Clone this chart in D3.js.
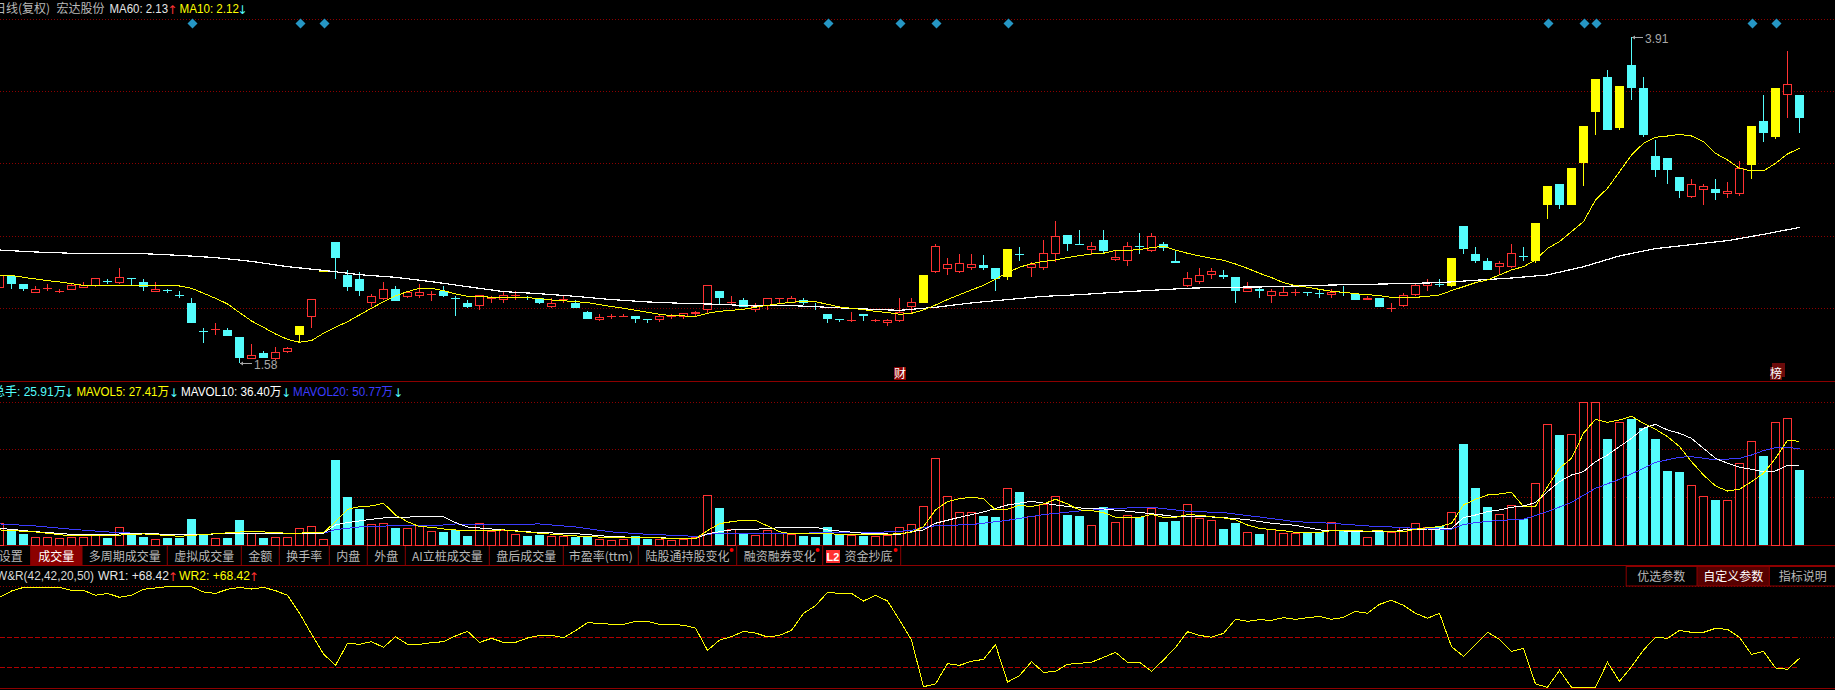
<!DOCTYPE html>
<html>
<head>
<meta charset="utf-8">
<script src="https://cdn.jsdelivr.net/npm/d3@7"></script>
<style>
    html, body { margin: 0; padding: 0; background: #000; overflow: hidden; }
    svg { display: block; }
    text { font-family: "Liberation Sans", "Noto Sans CJK SC", sans-serif; font-size: 12px; }
    .cjk { font-family: "Noto Sans CJK SC", sans-serif; font-size: 12px; }
</style>
</head>
<body>
<svg id="svg" width="1835" height="690"></svg>
<script>
// candles, one entry per session
const opens = [
    2.12,2.20,2.14,2.08,2.11,2.09,2.10,2.12,2.13,2.16,
    2.15,2.18,2.16,2.09,2.10,2.06,2.01,1.80,1.82,1.81,
    1.76,1.61,1.65,1.61,1.66,1.78,1.91,2.23,2.44,2.21,
    2.18,2.01,2.04,2.11,2.05,2.06,2.07,2.09,2.04,2.01,
    1.99,2.04,2.03,2.06,2.05,2.04,1.98,2.03,2.01,1.94,
    1.89,1.91,1.91,1.91,1.89,1.89,1.91,1.91,1.93,1.96,
    2.09,2.01,2.03,1.96,1.99,2.04,2.01,2.03,1.98,1.93,
    1.89,1.88,1.93,1.88,1.87,1.88,1.98,2.01,2.23,2.25,
    2.23,2.26,2.28,2.26,2.19,2.35,2.26,2.26,2.36,2.49,
    2.43,2.39,2.46,2.32,2.31,2.41,2.38,2.43,2.31,2.13,
    2.16,2.21,2.21,2.19,2.09,2.11,2.06,2.06,2.08,2.08,
    2.08,2.07,2.08,2.07,2.03,2.04,1.97,1.99,2.07,2.13,
    2.14,2.13,2.56,2.36,2.31,2.27,2.27,2.34,2.31,2.71,
    2.86,2.71,3.01,3.37,3.62,3.26,3.71,3.54,3.06,3.04,
    2.91,2.77,2.82,2.82,2.79,2.79,2.99,3.31,3.19,3.50,3.49
];
const closes = [
    2.20,2.14,2.11,2.10,2.11,2.09,2.13,2.13,2.18,2.16,
    2.19,2.18,2.12,2.10,2.09,2.06,1.86,1.80,1.82,1.77,
    1.61,1.63,1.61,1.65,1.68,1.84,2.03,2.23,2.33,2.12,
    2.09,2.05,2.10,2.02,2.08,2.08,2.07,2.06,2.04,1.98,
    2.06,2.04,2.06,2.06,2.04,2.01,2.00,2.03,1.97,1.89,
    1.90,1.91,1.91,1.89,1.89,1.91,1.91,1.93,1.94,2.13,
    2.04,2.01,1.98,1.98,2.04,2.04,2.04,2.01,1.98,1.89,
    1.89,1.88,1.91,1.88,1.88,1.94,2.01,2.21,2.41,2.28,
    2.29,2.28,2.26,2.18,2.39,2.35,2.28,2.36,2.48,2.43,
    2.42,2.41,2.38,2.33,2.41,2.41,2.48,2.40,2.29,2.18,
    2.20,2.23,2.19,2.09,2.11,2.09,2.09,2.08,2.08,2.08,
    2.07,2.08,2.08,2.03,2.04,1.98,1.97,2.06,2.13,2.15,
    2.14,2.33,2.39,2.31,2.24,2.29,2.36,2.34,2.58,2.84,
    2.71,2.97,3.27,3.61,3.24,3.56,3.54,3.21,2.96,2.96,
    2.81,2.85,2.84,2.79,2.80,2.97,3.27,3.22,3.54,3.57,3.33
];
const highs = [
    2.20,2.20,2.14,2.13,2.14,2.11,2.14,2.16,2.18,2.18,
    2.26,2.18,2.18,2.16,2.11,2.09,2.04,1.83,1.86,1.83,
    1.76,1.71,1.66,1.69,1.69,1.84,2.03,2.23,2.44,2.24,
    2.23,2.07,2.16,2.13,2.08,2.14,2.09,2.13,2.06,2.03,
    2.06,2.06,2.09,2.09,2.06,2.04,2.04,2.06,2.03,1.95,
    1.93,1.93,1.93,1.91,1.89,1.92,1.93,1.93,1.95,2.13,
    2.09,2.06,2.04,2.01,2.04,2.04,2.06,2.04,2.01,1.93,
    1.89,1.94,1.93,1.89,1.89,2.04,2.04,2.21,2.43,2.33,
    2.36,2.36,2.35,2.26,2.39,2.41,2.30,2.46,2.59,2.49,
    2.53,2.44,2.53,2.38,2.44,2.51,2.51,2.44,2.38,2.23,
    2.26,2.26,2.24,2.19,2.16,2.13,2.11,2.12,2.11,2.08,
    2.10,2.11,2.13,2.07,2.06,2.04,2.01,2.08,2.14,2.18,
    2.18,2.33,2.56,2.41,2.33,2.31,2.43,2.41,2.58,2.84,
    2.86,2.97,3.27,3.61,3.67,3.56,3.91,3.62,3.17,3.04,
    2.91,2.89,2.86,2.89,2.87,3.02,3.27,3.49,3.54,3.81,3.49
];
const lows = [
    2.12,2.11,2.09,2.08,2.09,2.08,2.10,2.12,2.12,2.14,
    2.14,2.13,2.09,2.09,2.08,2.04,1.86,1.72,1.78,1.77,
    1.58,1.61,1.61,1.60,1.65,1.73,1.83,2.23,2.18,2.09,
    2.06,1.98,2.03,2.02,2.04,2.04,2.02,2.05,1.91,1.97,
    1.96,2.01,2.01,2.03,2.03,2.00,1.97,2.01,1.97,1.89,
    1.88,1.89,1.91,1.86,1.86,1.87,1.89,1.89,1.91,1.93,
    2.00,2.00,1.98,1.94,1.96,2.00,2.01,1.99,1.96,1.86,
    1.87,1.87,1.88,1.87,1.84,1.87,1.93,2.01,2.22,2.21,
    2.22,2.24,2.24,2.09,2.17,2.31,2.19,2.24,2.30,2.38,
    2.42,2.35,2.36,2.31,2.27,2.36,2.37,2.38,2.29,2.12,
    2.14,2.18,2.18,2.01,2.09,2.04,2.01,2.06,2.06,2.06,
    2.04,2.04,2.06,2.03,2.03,1.98,1.94,1.98,2.06,2.09,
    2.12,2.12,2.36,2.29,2.24,2.21,2.26,2.31,2.29,2.61,
    2.68,2.71,2.84,3.21,3.24,3.24,3.46,3.19,2.91,2.86,
    2.76,2.76,2.71,2.74,2.76,2.77,2.89,3.16,3.18,3.33,3.22
];
// sessions whose open equals close but still count as down
const flatDown = [9,11,15,17,38,54,68,70,85,95,109,112,120,127];
const yellowDays = [25,27,77,84,121,128,129,131,132,133,135,146,148];
const diamondDays = [16,25,27,69,75,78,84,129,132,133,146,148];

const ma60At = d3.range(0, 151, 3);
const ma60 = [
    2.385,2.371,2.362,2.359,2.359,2.347,2.331,2.304,2.266,2.240,
    2.209,2.190,2.159,2.123,2.088,2.073,2.054,2.031,2.014,2.004,
    1.997,1.985,1.988,1.976,1.964,1.954,1.976,2.007,2.031,2.054,
    2.066,2.083,2.097,2.112,2.119,2.121,2.128,2.135,2.140,2.145,
    2.152,2.169,2.185,2.207,2.266,2.343,2.395,2.424,2.452,2.497,2.547
];
const ma10 = [
    2.204,2.204,2.190,2.178,2.166,2.157,2.145,2.133,2.131,2.131,
    2.131,2.131,2.131,2.131,2.131,2.128,2.112,2.076,2.040,2.000,
    1.938,1.878,1.833,1.785,1.747,1.726,1.738,1.790,1.833,1.873,
    1.921,1.969,2.016,2.057,2.088,2.112,2.112,2.095,2.071,2.054,
    2.054,2.047,2.047,2.045,2.045,2.038,2.028,2.023,2.016,2.009,
    1.995,1.981,1.969,1.954,1.940,1.926,1.916,1.914,1.911,1.933,
    1.947,1.954,1.962,1.976,1.990,2.002,2.011,2.019,2.016,1.997,
    1.978,1.969,1.959,1.947,1.938,1.926,1.933,1.957,1.992,2.031,
    2.066,2.100,2.133,2.176,2.224,2.262,2.288,2.304,2.314,2.331,
    2.345,2.357,2.362,2.383,2.383,2.388,2.402,2.412,2.385,2.362,
    2.343,2.326,2.312,2.285,2.254,2.219,2.188,2.152,2.131,2.119,
    2.104,2.090,2.083,2.073,2.066,2.059,2.047,2.047,2.047,2.054,
    2.064,2.095,2.123,2.152,2.171,2.207,2.243,2.266,2.314,2.397,
    2.445,2.517,2.588,2.743,2.826,2.945,3.064,3.148,3.191,3.200,
    3.212,3.200,3.160,3.076,3.029,2.969,2.950,2.950,3.005,3.072,3.112
];

// volume in 万手
const volumes = [
    15.8,12,8.3,5.8,5.8,5,5.3,5.3,7.5,5.5,
    13.3,9.3,6.3,4.3,5.3,5.5,19.5,7.8,5,5.3,
    18.8,8.3,5.3,5.8,5.8,12.5,14,4.3,63.8,36,
    27,15.5,16.3,12.8,12.5,14.8,10.3,9.8,11.3,6.8,
    16.3,10.5,10.8,8,6.8,7.5,6.5,6.3,6.3,6.8,
    4.3,3.5,4.3,6.8,4.3,4.3,3.5,4.3,5.8,37.3,
    27.8,11.8,8.3,7.3,11,8.8,8,6.8,6,13.5,
    7.8,7.3,6.8,6.5,7,13.5,15.5,29,65,36.5,
    24.5,24.5,21.8,21,42.5,39.8,21.5,30.5,36.5,22.5,
    21.8,14.8,28.5,17,22.3,21,27.5,17.3,18,30.5,
    20,18.5,12,16.5,9.5,8.3,11.5,8.8,8.8,9,
    9.5,17,10.5,10,5.8,9.8,9.5,13,16.3,13.5,
    14.3,24.5,75.8,42.8,28.5,23,29.8,19.3,46.3,90.5,
    82.5,83,107,107,79.5,92,94.5,87.8,79.5,55.5,
    54.8,44.8,36.5,33.8,33.5,61.3,77.8,66.8,92,95,56.3
];
const mavol5At = [
    0,3,6,9,12,15,18,21,24,27,28,29,30,31,32,33,34,35,36,37,38,
    39,42,45,48,51,54,57,58,59,60,61,62,63,64,65,66,69,72,75,76,77
].concat(d3.range(78, 151));
const mavol5 = [
    11.3,9.8,6.8,7,8.3,6.5,8.5,10.3,8.8,9.3,17.5,26.8,28.8,29.3,31.3,22.5,17.5,13.8,13.3,12,11.3,
    10.5,11.3,8.8,6.8,5.5,5.5,4.8,4.8,10.8,16,17.5,18.5,18.5,14.3,10,8.3,8.3,8,8.3,9.5,13.8,
    26.3,32.5,34.8,35.8,34.8,26.3,26.8,29.8,28.8,30.8,34.3,30.8,26.3,25.8,24.3,20.8,20.8,20.8,23,20.8,20.8,
    22.8,22.3,21.3,20.3,18.8,15,12.5,11.5,10.8,9.5,9.3,9.5,10.8,10.8,10.8,10.3,10.8,
    9.8,10,11.8,13,13.8,16.3,30,34.3,37.5,38.3,39.5,28.8,29,43.8,57.5,65,83.8,94.3,92,93.8,96.5,91.3,86.8,
    81.3,73.8,62.5,52.5,44.3,40.5,41.8,47.5,53.8,65,78.5,77.8
];
const mavol10At = [
    0,3,6,9,12,15,18,21,24,27,28,29,30,31,32,33,36,37,38,
    39,42,45,48,51,54,57,58,59,60,61,63,64,66,68,69,72,75,76,
    77,78,80,82,84,86,88,90,92,94,96,98,100,102,104,106,108,110,112,114,
    116,117,119,120,121,122,123,124,125,126,127,128,129,130,131,132,133,134,135,136,137,138,139,
    140,141,142,143,144,145,146,147,148,149,150
];
const mavol10 = [
    12.5,10,8,8,8.8,7.5,8.3,8.3,8.3,8.8,15,16.8,18,19.3,20.3,20.8,21.3,21.3,16.8,
    13.5,11.3,9.3,8.5,6.3,5.5,5,5,8.3,10,11.3,11.8,12.5,13.3,13.3,11.3,8.8,8,10,
    11.3,16.3,20.8,24.8,30,32.8,30,27.8,27,25.3,23.5,21.3,21.5,20.5,19,16.3,14.8,11.3,10.5,10,
    9.8,11.3,12,12,12.5,20.5,22.5,25,26.3,28.3,29.3,31.8,40,47.5,52.5,55,62.5,67.5,73.8,80,87.5,90.5,86.3,
    83.8,80,72.5,65,61.3,58.3,56.8,55,55.5,59.8,59.5
];
const mavol20At = [
    0,3,6,9,12,15,18,21,24,27,28,29,30,33,36,38,39,42,45,48,51,54,57,58,59,60,63,66,69,72,75,76,
    77,78,81,84,87,90,93,96,99,102,105,108,111,114,116,118,120,121,122,123,125,127,129,131,133,135,137,138,
    140,141,143,145,146,147,148,149,150
];
const mavol20 = [
    15.8,14.3,11.8,9.8,8.5,7.8,8.3,8.3,8.5,8.8,11.5,12.5,13.5,14.5,14.3,15.8,15.5,15.3,15.8,13.5,9.8,8,7,6.3,8,8.8,8.8,8.5,9.5,9,10.3,11,
    13,14.5,15.3,18.5,22.8,25.5,27.5,28.3,25.3,24.3,21,17.5,16.3,14.3,13.5,12.5,12,12,15.3,16.8,18.5,19.3,25,32,42.5,49.3,57.5,62,
    65.8,66.3,63.8,65,67.5,70.8,73,73.3,72
];

// W&R line
const wr = [
    89.5,95.7,99.3,98.7,98.7,99.3,96.4,96.4,91.5,93.4,
    89.5,91.5,97.4,98.7,100,100,100,94.8,93.4,97.4,
    99.3,97.7,99.3,96.1,91.5,73.8,53.4,33.8,22.6,44.3,
    43.3,45.9,40.3,50.8,43.3,43.3,44.9,45.9,51.5,56.1,
    45.2,49.2,45.2,45.2,49.5,52.1,52.1,49.8,56.7,64.6,
    63.9,63,63,65.9,65.9,63,63,62,59.3,37.4,
    47.5,50.8,56.1,54.4,50.5,52.1,57,73.8,81.3,94.4,
    93.4,93.4,85.9,91.5,85.9,67.2,47.5,1.6,4.3,24.3,
    22.6,26.6,28.5,43,6.2,12.5,26.2,15.7,16.7,23.6,
    24.6,25.6,30.5,35.4,25.6,25.6,16.7,27.9,40.3,55.7,
    52.1,50.2,54.1,67.9,65.9,67.5,66.9,69.5,67.9,69.5,
    70.8,67.9,69.8,75.7,73.8,82.6,86.6,81.6,73.8,68.9,
    73.8,41,31.5,43.3,55.1,48.2,36.4,39.3,4.3,1,
    17.7,1,1,1,25.6,6.9,21.3,37.7,50.2,49.2,
    57,55.1,55.1,59,58,50.2,33.4,36.4,20,18.7,29.5
];

// grid levels, in each panel's own units
const priceGrid = [4.034, 3.519, 3.005, 2.481, 1.969];
const volumeGrid = [107, 71.8, 35.8];
const wrDotted = [100];
const wrDashed = [50, 20];

const tabLabels = ["设置", "成交量", "多周期成交量", "虚拟成交量", "金额", "换手率", "内盘", "外盘", "AI立桩成交量", "盘后成交量", "市盈率(ttm)", "陆股通持股变化", "融资融券变化", "资金抄底"];
const tabEdges = [-9, 30.7, 82, 167.3, 241.3, 279.3, 329.3, 367.3, 405.3, 489.3, 563.3, 638.3, 736.7, 822.7, 900.7];
const tabDots = [731.7, 817.7, 895.7];
const paramLabels = ["优选参数", "自定义参数", "指标说明"];
const paramEdges = [1625.7, 1697, 1769.3, 1836];

const RED = "#ff3232", CYAN = "#54fcfc", YELLOW = "#ffff00", WHITE = "#ffffff", BLUE = "#3c3cff";
const GRID = "#8c0000", GREY = "#b9b9b9";

let svg = d3.select("#svg");
const width = 1835;
const lastX = 1797;

let xScale = d3.scaleLinear().domain([0, 150]).range([-0.5, 1799.5]);
let priceScale = d3.scaleLinear().domain([1.58, 3.91]).range([362.67, 36.67]);
let volumeScale = d3.scaleLinear().domain([0, 100]).range([545, 411.67]);
let wrScale = d3.scaleLinear().domain([0, 100]).range([688.33, 586.67]);

function toneOf(i) {
    if (yellowDays.includes(i)) return YELLOW;
    if (closes[i] > opens[i]) return RED;
    if (closes[i] < opens[i]) return CYAN;
    return flatDown.includes(i) ? CYAN : RED;
}

function volumeTone(i) {
    let tone = toneOf(i);
    return tone == YELLOW ? RED : tone;
}

function drawGrid(levels, scale, dash, color = GRID, x1 = 0, x2 = width) {
    svg.append("g").selectAll("line").data(levels).join("line")
        .attr("x1", x1).attr("x2", x2)
        .attr("y1", d => Math.floor(scale(d)) + 0.5)
        .attr("y2", d => Math.floor(scale(d)) + 0.5)
        .attr("stroke", color)
        .attr("stroke-dasharray", dash);
}

function drawRule(y, x1 = 0, x2 = width) {
    svg.append("line").attr("x1", x1).attr("x2", x2).attr("y1", y).attr("y2", y).attr("stroke", GRID);
}

function drawLine(at, values, yScale, color, thickness = 1) {
    let line = d3.line().x((d, k) => xScale(at[k])).y(d => yScale(d));
    svg.append("path").attr("d", line(values))
        .attr("fill", "none")
        .attr("stroke", color)
        .attr("stroke-width", thickness)
        .attr("shape-rendering", "crispEdges");
}

function drawCandles() {
    let g = svg.append("g").attr("shape-rendering", "crispEdges");
    let days = d3.range(opens.length);

    g.selectAll(".wick").data(days).join("line")
        .attr("class", "wick")
        .attr("x1", i => xScale(i)).attr("x2", i => xScale(i))
        .attr("y1", i => priceScale(highs[i])).attr("y2", i => priceScale(lows[i]))
        .attr("stroke", toneOf);

    g.selectAll(".body").data(days.filter(i => opens[i] != closes[i])).join("rect")
        .attr("class", "body")
        .attr("x", i => toneOf(i) == RED ? xScale(i) - 4 : xScale(i) - 4.5)
        .attr("width", i => toneOf(i) == RED ? 8 : 9)
        .attr("y", i => priceScale(Math.max(opens[i], closes[i])))
        .attr("height", i => Math.abs(priceScale(opens[i]) - priceScale(closes[i])))
        .attr("fill", i => toneOf(i) == RED ? "#000" : toneOf(i))
        .attr("stroke", i => toneOf(i) == RED ? RED : "none");

    g.selectAll(".flat").data(days.filter(i => opens[i] == closes[i])).join("line")
        .attr("class", "flat")
        .attr("x1", i => xScale(i) - 4.5).attr("x2", i => xScale(i) + 4.5)
        .attr("y1", i => priceScale(opens[i])).attr("y2", i => priceScale(opens[i]))
        .attr("stroke", toneOf);
}

function drawVolumes() {
    let g = svg.append("g").attr("shape-rendering", "crispEdges");
    let days = d3.range(volumes.length);
    g.selectAll("rect").data(days).join("rect")
        .attr("x", i => volumeTone(i) == RED ? xScale(i) - 4 : xScale(i) - 4.5)
        .attr("width", i => volumeTone(i) == RED ? 8 : 9)
        .attr("y", i => volumeScale(volumes[i]))
        .attr("height", i => volumeScale(0) - volumeScale(volumes[i]))
        .attr("fill", i => volumeTone(i) == RED ? "#000" : CYAN)
        .attr("stroke", i => volumeTone(i) == RED ? RED : "none");
}

function drawDiamonds() {
    svg.append("g").selectAll("path").data(diamondDays).join("path")
        .attr("d", "M0,-5L5,0L0,5L-5,0Z")
        .attr("transform", i => `translate(${xScale(i) + 1},23.5)`)
        .attr("fill", "#2596c4");
}

function label(text, x, y, color, cls, anchor = "start", fit) {
    let t = svg.append("text").attr("x", x).attr("y", y).attr("fill", color)
        .attr("class", cls || null).attr("text-anchor", anchor).text(text);
    if (fit) t.attr("textLength", fit).attr("lengthAdjust", "spacingAndGlyphs");
    return t;
}

function arrow(text, x, y, color) {
    svg.append("text").attr("x", x).attr("y", y).attr("fill", color)
        .attr("text-anchor", "middle")
        .style("font-family", "'DejaVu Sans'").style("font-size", "12px").text(text);
}

function priceNote(i, price, tipX, textX) {
    let y = Math.round(priceScale(price)) + 0.5;
    svg.append("line").attr("x1", tipX).attr("x2", textX - 2).attr("y1", y).attr("y2", y).attr("stroke", "#a8a8a8");
    svg.append("path").attr("d", `M${tipX},${y}l3,-2v4Z`).attr("fill", "#a8a8a8");
    label(price.toFixed(2), textX, y + 5, "#a8a8a8");
}

function badge(text, x, y, color = "#8b0000") {
    svg.append("rect").attr("x", x).attr("y", y).attr("width", 12).attr("height", 13).attr("fill", color);
    label(text, x, y + 11, "#fff", "cjk");
}

function drawHeaders() {
    label("日线(复权)", -6, 13, GREY, "cjk");
    label("宏达股份", 56.5, 13, GREY, "cjk");
    label("MA60: 2.13", 109.5, 13, "#e6e6e6", null, "start", 58.5);
    arrow("↑", 172.3, 14, RED);
    label("MA10: 2.12", 179.5, 13, YELLOW, null, "start", 59.5);
    arrow("↓", 242.3, 14, CYAN);

    label("总手: 25.91万", -7, 396, CYAN);
    arrow("↓", 68.7, 397, CYAN);
    label("MAVOL5: 27.41万", 76.5, 396, YELLOW, null, "start", 92.5);
    arrow("↓", 173.7, 397, CYAN);
    label("MAVOL10: 36.40万", 181, 396, WHITE, null, "start", 100.5);
    arrow("↓", 286, 397, CYAN);
    label("MAVOL20: 50.77万", 293, 396, BLUE, null, "start", 100);
    arrow("↓", 398, 397, CYAN);

    label("W&R(42,42,20,50)", -4, 580, "#d8d8d8", null, "start", 98);
    label("WR1: +68.42", 98, 580, "#e6e6e6", null, "start", 71);
    arrow("↑", 172.7, 581, RED);
    label("WR2: +68.42", 179, 580, YELLOW, null, "start", 71);
    arrow("↑", 253.7, 581, RED);
}

function drawTabs() {
    svg.append("rect").attr("x", tabEdges[1]).attr("y", 546).attr("width", tabEdges[2] - tabEdges[1]).attr("height", 19).attr("fill", "#8c0000");
    tabEdges.slice(1).forEach(x => {
        svg.append("line").attr("x1", x).attr("x2", x).attr("y1", 546).attr("y2", 565).attr("stroke", GRID);
    });
    tabLabels.forEach((t, k) => {
        let mid = (tabEdges[k] + tabEdges[k + 1]) / 2;
        if (t == "资金抄底") {
            label(t, 868.5, 560.5, GREY, "cjk", "middle");
        } else {
            label(t, mid, 560.5, k == 1 ? "#fff" : GREY, "cjk", "middle");
        }
    });
    svg.selectAll(".tabdot").data(tabDots).join("circle")
        .attr("class", "tabdot")
        .attr("cx", d => d).attr("cy", 550).attr("r", 2).attr("fill", "#ff0000");
    svg.append("rect").attr("x", 826).attr("y", 550).attr("width", 14).attr("height", 13).attr("fill", "#ff3232");
    svg.append("text").attr("x", 833).attr("y", 560.5).attr("text-anchor", "middle").attr("fill", "#fff")
        .style("font-size", "11px").style("font-weight", "bold").text("L2");

    // parameter buttons, right of the W&R header
    svg.append("rect").attr("x", paramEdges[1]).attr("y", 566).attr("width", paramEdges[2] - paramEdges[1]).attr("height", 20).attr("fill", "#560000");
    svg.append("rect").attr("x", paramEdges[0] + 0.5).attr("y", 566.5).attr("width", 220).attr("height", 19.5).attr("fill", "none").attr("stroke", GRID);
    paramEdges.slice(1, 3).forEach(x => {
        svg.append("line").attr("x1", x).attr("x2", x).attr("y1", 566).attr("y2", 586).attr("stroke", GRID);
    });
    paramLabels.forEach((t, k) => {
        label(t, (paramEdges[k] + paramEdges[k + 1]) / 2, 581, k == 1 ? "#fff" : GREY, "cjk", "middle");
    });
}

function initialise() {
    drawGrid(priceGrid, priceScale, "1 2");
    drawGrid(volumeGrid, volumeScale, "1 2");
    drawGrid(wrDotted, wrScale, "1 2");
    drawGrid(wrDashed, wrScale, "5 2", "#b00000", 0, lastX);
    drawGrid([wrDashed[0]], wrScale, "1 2", GRID, lastX, width);

    drawRule(381.5);
    drawRule(545.5);
    drawRule(565.5);
    drawRule(688.5);

    drawCandles();
    drawLine(ma60At, ma60, priceScale, WHITE, 1.2);
    drawLine(d3.range(ma10.length), ma10, priceScale, YELLOW);
    drawDiamonds();
    priceNote(136, 3.91, 1632, 1645);
    priceNote(20, 1.58, 240, 254);
    badge("财", 894, 367);
    svg.append("rect").attr("x", 1772).attr("y", 363).attr("width", 13).attr("height", 14).attr("fill", "#6b0a0a");
    badge("榜", 1770, 367, "#6b0a0a");

    drawVolumes();
    drawLine(mavol20At, mavol20, volumeScale, BLUE);
    drawLine(mavol10At, mavol10, volumeScale, WHITE);
    drawLine(mavol5At, mavol5, volumeScale, YELLOW);

    drawLine(d3.range(wr.length), wr, wrScale, YELLOW);

    drawHeaders();
    drawTabs();
}

initialise();
</script>
</body>
</html>
